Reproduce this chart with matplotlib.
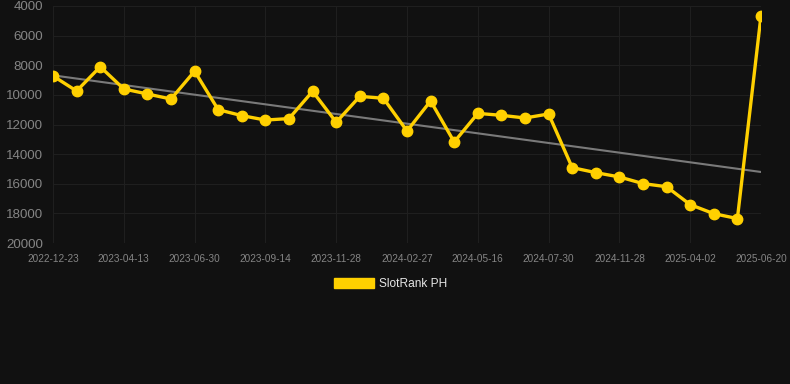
#!/usr/bin/env python3
"""SlotRank PH rank history on a dark background, inverted y-axis."""
import numpy as np

import matplotlib
matplotlib.use("Agg")
import matplotlib.pyplot as plt
from matplotlib.patches import Patch

BG = "#111111"
GRID = "#1f1f1f"
TICK = "#858585"
GOLD = "#ffd000"
TREND = "#7a7a7a"

tick_labels = [
    "2022-12-23", "2023-04-13", "2023-06-30", "2023-09-14", "2023-11-28",
    "2024-02-27", "2024-05-16", "2024-07-30", "2024-11-28", "2025-04-02",
    "2025-06-20",
]
ranks = [
    8720, 9740, 8100, 9600, 9940, 10280, 8400, 11000, 11400, 11700,
    11600, 9760, 11850, 10100, 10230, 12440, 10410, 13180, 11250, 11380,
    11560, 11290, 14910, 15250, 15540, 15990, 16200, 17410, 18020, 18350,
    4650,
]
y_ticks = [4000, 6000, 8000, 10000, 12000, 14000, 16000, 18000, 20000]

x = np.arange(len(ranks))
slope, intercept = np.polyfit(x, ranks, 1)

fig = plt.figure(figsize=(7.9, 3.84), dpi=100, facecolor=BG)
ax = fig.add_axes([53 / 790, 1 - 243 / 384, (761 - 53) / 790, (243 - 6) / 384])
ax.set_facecolor(BG)

ax.plot(x, slope * x + intercept, color=TREND, lw=1.5, zorder=2)
ax.plot(x, ranks, color=GOLD, lw=2.4, marker="o", ms=7.5, zorder=3,
        solid_joinstyle="round")

ax.set_ylim(20000, 4000)
ax.set_xlim(0, len(ranks) - 1)
ax.set_yticks(y_ticks)
ax.set_yticklabels([str(v) for v in y_ticks])
ax.set_xticks(x[::3])
ax.set_xticklabels(tick_labels)

ax.grid(True, color=GRID, lw=0.8)
for s in ax.spines.values():
    s.set_visible(False)
ax.tick_params(axis="y", colors=TICK, labelsize=9.6, length=0, pad=7)
ax.tick_params(axis="x", colors=TICK, labelsize=7.2, length=0, pad=8)
for lab in ax.get_xticklabels() + ax.get_yticklabels():
    lab.set_fontfamily("Liberation Sans")
    lab.set_color(TICK)

handle = Patch(facecolor=GOLD, edgecolor=GOLD)
leg = fig.legend([handle], ["SlotRank PH"], loc="center",
                 bbox_to_anchor=(391 / 790, 1 - 284 / 384), frameon=False,
                 handlelength=3.3, handleheight=1.0, handletextpad=0.45,
                 prop={"family": "Liberation Sans", "size": 8.6})
for t in leg.get_texts():
    t.set_color("#e6e6e6")

fig.savefig("out.png", dpi=100, facecolor=BG)
